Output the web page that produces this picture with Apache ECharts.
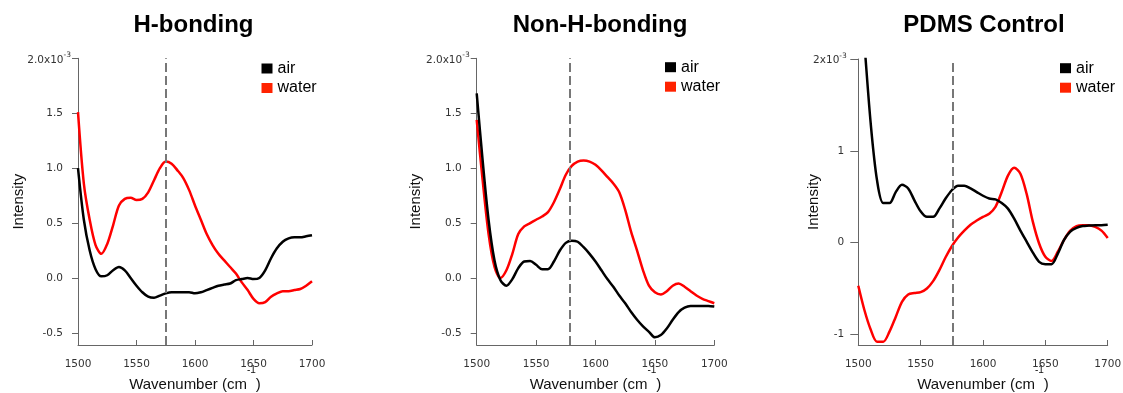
<!DOCTYPE html>
<html><head><meta charset="utf-8">
<script src="https://cdn.jsdelivr.net/npm/echarts@6/dist/echarts.min.js"></script>
<style>html,body{margin:0;padding:0;background:#fff}#c{width:1123px;height:393px}</style>
</head><body><div id="c"></div>
<script>
// ---- data (intensity in units of 1e-3) ----
const wavenumbers = [1500,1505,1510,1515,1520,1525,1530,1535,1540,1545,1550,1555,1560,1565,1570,1575,1580,1585,1590,1595,1600,1605,1610,1615,1620,1625,1630,1635,1640,1645,1650,1655,1660,1665,1670,1675,1680,1685,1690,1695,1700];
const panelTitles = ['H-bonding', 'Non-H-bonding', 'PDMS Control'];
const seriesNames = ['air', 'water'];
const hbAir   = [1.00,0.53,0.25,0.08,0.015,0.025,0.07,0.10,0.07,0.00,-0.07,-0.13,-0.17,-0.18,-0.16,-0.14,-0.13,-0.13,-0.13,-0.13,-0.14,-0.13,-0.11,-0.09,-0.07,-0.06,-0.05,-0.02,-0.01,0.00,-0.01,0.00,0.07,0.18,0.27,0.33,0.36,0.37,0.37,0.38,0.39];
const hbWater = [1.51,0.86,0.53,0.30,0.22,0.31,0.48,0.66,0.72,0.73,0.71,0.72,0.78,0.89,1.00,1.06,1.04,0.98,0.91,0.80,0.66,0.53,0.40,0.30,0.22,0.16,0.10,0.04,-0.04,-0.11,-0.19,-0.23,-0.22,-0.17,-0.14,-0.12,-0.12,-0.11,-0.10,-0.07,-0.03];
const nhAir   = [1.68,1.07,0.53,0.16,-0.02,-0.07,-0.01,0.09,0.15,0.155,0.12,0.08,0.08,0.15,0.25,0.32,0.34,0.33,0.28,0.22,0.15,0.07,-0.01,-0.08,-0.16,-0.23,-0.31,-0.38,-0.44,-0.49,-0.54,-0.52,-0.46,-0.38,-0.31,-0.27,-0.255,-0.255,-0.255,-0.255,-0.26];
const nhWater = [1.44,0.89,0.40,0.10,0.00,0.07,0.22,0.40,0.47,0.50,0.53,0.56,0.60,0.69,0.81,0.94,1.02,1.06,1.07,1.06,1.03,0.98,0.92,0.86,0.78,0.62,0.42,0.25,0.07,-0.07,-0.13,-0.15,-0.12,-0.07,-0.05,-0.08,-0.12,-0.16,-0.19,-0.21,-0.23];
const pdAir   = [3.0,2.15,1.29,0.68,0.43,0.43,0.55,0.63,0.59,0.46,0.34,0.28,0.28,0.37,0.48,0.57,0.62,0.62,0.59,0.55,0.51,0.48,0.47,0.43,0.37,0.26,0.13,0.01,-0.11,-0.21,-0.235,-0.235,-0.12,0.03,0.12,0.16,0.18,0.185,0.19,0.19,0.195];
const pdWater = [-0.47,-0.74,-0.95,-1.08,-1.08,-0.97,-0.81,-0.645,-0.565,-0.55,-0.54,-0.50,-0.42,-0.30,-0.16,-0.04,0.055,0.13,0.195,0.24,0.28,0.315,0.39,0.55,0.73,0.815,0.75,0.53,0.225,-0.01,-0.155,-0.20,-0.10,0.03,0.13,0.18,0.19,0.19,0.17,0.13,0.05];
const markers = [1575, 1578, 1576];
const xTicks = [1500, 1550, 1600, 1650, 1700];
const yTicksA = [-0.5, 0, 0.5, 1.0, 1.5, 2.0];
const yTicksB = [-1, 0, 1, 2];
const yRangeA = [-0.61, 2.0];
const yRangeB = [-1.116, 2.0];

// ---- layout / style ----
const SANS = "'Liberation Sans', Arial, sans-serif";
const TICKF = "'DejaVu Sans', Verdana, sans-serif";
const AX = '#666';
const RED = '#ff0000';
const panels = [
  {air: hbAir, water: hbWater, ticks: yTicksA, range: yRangeA, dec: 1,
   grid: {left: 78, top: 58.3, width: 234, height: 286.7}, titleX: 188.5,
   legend: {left: 261.5, top: 60.5}, nameGap: 52, labMargin: 15, topMargin: 7, tickLen: 6},
  {air: nhAir, water: nhWater, ticks: yTicksA, range: yRangeA, dec: 1,
   grid: {left: 476.7, top: 58.3, width: 237.6, height: 286.7}, titleX: 595,
   legend: {left: 665, top: 59.2}, nameGap: 53, labMargin: 15, topMargin: 7, tickLen: 6},
  {air: pdAir, water: pdWater, ticks: yTicksB, range: yRangeB, dec: 0,
   grid: {left: 858.3, top: 59, width: 249.4, height: 286}, titleX: 979,
   legend: {left: 1060, top: 60.2}, nameGap: 37, labMargin: 14, topMargin: 11.5, tickLen: 8}
];

function fmt(v, dec, top) {
  if (top) return '{a|' + (dec ? v.toFixed(dec) : String(v)) + 'x10}{s|-3}';
  return dec ? v.toFixed(dec) : String(v);
}
const tickRich = {
  a: {fontFamily: TICKF, fontSize: 10.5, color: '#333', verticalAlign: 'bottom'},
  s: {fontFamily: TICKF, fontSize: 7.5, color: '#333', verticalAlign: 'bottom', padding: [0, 0, 6, 0]}
};

const option = {
  animation: false,
  backgroundColor: '#fff',
  title: [], grid: [], xAxis: [], yAxis: [], legend: [], series: []
};

panels.forEach((p, i) => {
  const topVal = p.ticks[p.ticks.length - 1];
  option.title.push({text: panelTitles[i], left: p.titleX, top: 8, textAlign: 'center',
    textStyle: {fontFamily: SANS, fontSize: 24, fontWeight: 'bold', color: '#000'}});
  option.grid.push(Object.assign({containLabel: false, outerBoundsMode: 'none'}, p.grid));
  option.xAxis.push({
    type: 'value', gridIndex: i, min: xTicks[0], max: xTicks[xTicks.length - 1], interval: 50,
    name: '{b|Wavenumber (cm}{s|-1}{b|)}', nameLocation: 'middle', nameGap: 20, nameMoveOverlap: false,
    nameTextStyle: {rich: {
      b: {fontFamily: SANS, fontSize: 15, color: '#111', verticalAlign: 'bottom'},
      s: {fontFamily: SANS, fontSize: 10, color: '#111', verticalAlign: 'bottom', padding: [0, 0, 17, 0]}
    }},
    axisLine: {show: true, onZero: false, lineStyle: {color: AX, width: 1}},
    axisTick: {show: true, inside: true, length: 5, lineStyle: {color: AX}},
    axisLabel: {fontFamily: TICKF, fontSize: 10.5, color: '#333', margin: 14,
      formatter: v => String(v)},
    splitLine: {show: false}
  });
  option.yAxis.push({
    type: 'value', gridIndex: i, position: 'left', min: p.range[0], max: p.range[1],
    name: 'Intensity', nameLocation: 'middle', nameGap: p.nameGap, nameMoveOverlap: false,
    nameTextStyle: {fontFamily: SANS, fontSize: 15, color: '#111'},
    axisLine: {show: true, onZero: false, lineStyle: {color: AX, width: 1}},
    axisTick: {show: true, inside: false, length: p.tickLen, customValues: p.ticks, lineStyle: {color: AX}},
    axisLabel: {customValues: p.ticks.slice(0, -1), margin: p.labMargin,
      fontFamily: TICKF, fontSize: 10.5, color: '#333',
      formatter: v => fmt(v, p.dec, false)},
    splitLine: {show: false}
  });
  // companion axis that only carries the exponent label at the top tick
  option.yAxis.push({
    type: 'value', gridIndex: i, position: 'left', offset: 0, min: p.range[0], max: p.range[1],
    axisLine: {show: false, onZero: false}, axisTick: {show: false}, splitLine: {show: false},
    axisLabel: {customValues: [topVal], margin: p.topMargin, rich: tickRich,
      formatter: v => fmt(v, p.dec, true)}
  });
  option.legend.push({
    left: p.legend.left, top: p.legend.top, padding: 0, orient: 'vertical', itemWidth: 11, itemHeight: 10,
    itemGap: 3.5, selectedMode: false,
    data: [{name: seriesNames[0], icon: 'rect', itemStyle: {color: '#000'}},
           {name: seriesNames[1], icon: 'rect', itemStyle: {color: '#ff2200'}}],
    textStyle: {fontFamily: SANS, fontSize: 16, color: '#000'}
  });
  const yIdx = i * 2;
  option.series.push({
    name: seriesNames[1], type: 'line', xAxisIndex: i, yAxisIndex: yIdx,
    data: wavenumbers.map((w, k) => [w, p.water[k]]),
    showSymbol: false, smooth: 0.3, clip: true, color: RED,
    lineStyle: {color: RED, width: 2.5},
    markLine: {silent: true, symbol: 'none', animation: false, label: {show: false},
      lineStyle: {color: '#777', width: 2, type: [9, 4]},
      data: [{xAxis: markers[i]}]}
  });
  option.series.push({
    name: seriesNames[0], type: 'line', xAxisIndex: i, yAxisIndex: yIdx,
    data: wavenumbers.map((w, k) => [w, p.air[k]]),
    showSymbol: false, smooth: 0.3, clip: true, color: '#000',
    lineStyle: {color: '#000', width: 2.5}
  });
});

const chart = echarts.init(document.getElementById('c'), null, {renderer: 'canvas'});
chart.setOption(option);
</script>
</body></html>
